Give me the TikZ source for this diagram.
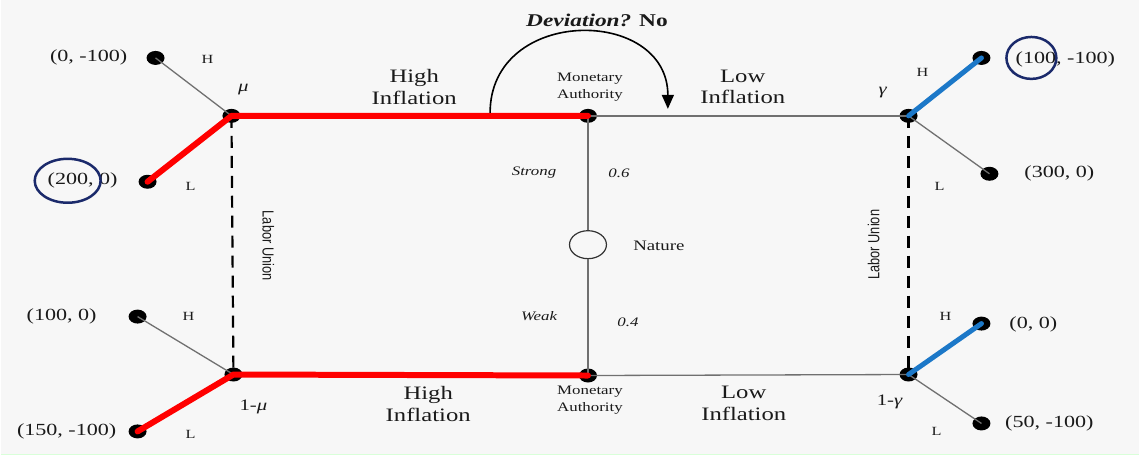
\documentclass[tikz,border=0pt]{standalone}
\usepackage{fontspec}
\setmainfont{Liberation Serif}[FakeStretch=1.3]
\newfontfamily\lufont{Liberation Sans}[FakeStretch=0.8]
\usetikzlibrary{shapes.geometric,arrows.meta}
\definecolor{bg}{HTML}{F7F7F7}
\definecolor{thinline}{HTML}{707070}
\definecolor{redline}{HTML}{FF0000}
\definecolor{blueline}{HTML}{1C78C8}
\definecolor{navy}{HTML}{1B2A6B}
\definecolor{txt}{HTML}{1A1A1A}
\tikzset{
  dot/.style={ellipse, fill=black, minimum width=18pt, minimum height=14pt, inner sep=0pt},
  naturenode/.style={ellipse, draw=black!80, line width=1.2pt, fill=bg, minimum width=37pt, minimum height=28pt, inner sep=0pt},
  thin/.style={draw=thinline, line width=1.3pt},
  redbranch/.style={draw=redline, line width=6pt, line cap=round, line join=round},
  bluebranch/.style={draw=blueline, line width=5pt, line cap=round},
  dashedline/.style={draw=black, line width=2.2pt, dash pattern=on 12pt off 8pt},
  payoff/.style={text=txt, font=\fontsize{17}{19}\selectfont, inner sep=0pt},
  big/.style={text=txt, font=\fontsize{19}{22}\selectfont, align=center, inner sep=0pt},
  small/.style={text=txt, font=\fontsize{12.5}{14}\selectfont, inner sep=0pt},
  ma/.style={text=txt, font=\fontsize{13}{17}\selectfont, align=center, inner sep=0pt},
  chance/.style={text=txt, font=\fontsize{13}{15}\selectfont\itshape, inner sep=0pt},
  greek/.style={text=txt, font=\fontsize{16}{18}\selectfont\itshape, inner sep=0pt},
  union/.style={text=txt, font=\fontsize{16}{18}\lufont, inner sep=0pt},
  highlight/.style={draw=navy, line width=2.5pt},
}
\begin{document}
\begin{tikzpicture}[x=1pt,y=-1pt]
\fill[bg] (0,0) rectangle (1140,456);
\draw[green!15, line width=1.5pt] (0,455) -- (1140,455);
\useasboundingbox (0,0) rectangle (1140,456);

% decision / chance nodes
\node[dot] (mu) at (231,116) {};
\node[dot] (omu) at (233,375) {};
\node[dot] (ma1) at (588,116) {};
\node[dot] (ma2) at (588,376) {};
\node[dot] (ga) at (909,116) {};
\node[dot] (oga) at (909,375) {};
\node[naturenode] (nat) at (588,245) {};

% terminal dots
\node[dot] (t1) at (155,58) {};
\node[dot] (t2) at (147,182) {};
\node[dot] (t3) at (137,317) {};
\node[dot] (t4) at (137,432) {};
\node[dot] (t5) at (982,58) {};
\node[dot] (t6) at (990,174) {};
\node[dot] (t7) at (982,324) {};
\node[dot] (t8) at (982,424) {};

% thin branches
\draw[thin] (mu.center) -- (t1.center);
\draw[thin] (omu.center) -- (t3.center);
\draw[thin] (ma1.center) -- (ga.center);
\draw[thin] (ma2.center) -- (oga.center);
\draw[thin] (ga.center) -- (t6.center);
\draw[thin] (oga.center) -- (t8.center);
\draw[thin] (ma1.center) -- (nat.north);
\draw[thin] (nat.south) -- (ma2.center);

% information sets
\draw[dashedline] (mu.center) -- (omu.center);
\draw[dashedline] (ga.center) -- (oga.center);

% equilibrium paths
\draw[redbranch] (t2.center) -- (mu.center) -- (ma1.center);
\draw[redbranch] (t4.center) -- (omu.center) -- (ma2.center);
\draw[bluebranch] (ga.center) -- (t5.center);
\draw[bluebranch] (oga.center) -- (t7.center);

% deviation arrow
\coordinate (devS) at (490,113);
\coordinate (devE) at (668,109);
\draw[black, line width=1.6pt, -{Triangle[length=14pt,width=12pt]}] (devS) .. controls (490,6) and (668,6) .. (devE);
\node[text=txt, font=\fontsize{18}{20}\selectfont\bfseries, inner sep=0pt] (dev) at (597,20) {\textit{Deviation?} No};

% payoffs
\node[payoff] (p1) at (88,57) {(0, -100)};
\node[payoff] (p2) at (82,181) {(200, 0)};
\node[payoff] (p3) at (61,317) {(100, 0)};
\node[payoff] (p4) at (66,432) {(150, -100)};
\node[payoff] (p5) at (1066,59) {(100, -100)};
\node[payoff] (p6) at (1060,174) {(300, 0)};
\node[payoff] (p7) at (1034,325) {(0, 0)};
\node[payoff] (p8) at (1050,424) {(50, -100)};
\draw[highlight] (67,181) ellipse[x radius=33, y radius=22];
\draw[highlight] (1032,58) ellipse[x radius=25, y radius=21];

% action labels
\node[small] (h1) at (207,59) {H};
\node[small] (l1) at (190,187) {L};
\node[small] (h2) at (188,317) {H};
\node[small] (l2) at (190,435) {L};
\node[small] (h3) at (923,73) {H};
\node[small] (l3) at (940,187) {L};
\node[small] (h4) at (946,317) {H};
\node[small] (l4) at (937,432) {L};

\node[greek] (lmu) at (243,90) {μ};
\node[greek] (lomu) at (253,407) {\upshape 1-\itshape μ};
\node[greek] (lga) at (883,93) {γ};
\node[greek] (loga) at (890,402) {\upshape 1-\itshape γ};

\node[big] (hi1) at (414,87) {High\\Inflation};
\node[big] (hi2) at (428,405) {High\\Inflation};
\node[big] (lo1) at (743,87) {Low\\Inflation};
\node[big] (lo2) at (744,404) {Low\\Inflation};

\node[ma] (mal1) at (590,87) {Monetary\\Authority};
\node[ma] (mal2) at (590,401) {Monetary\\Authority};

\node[chance] (strong) at (534,173) {Strong};
\node[chance] (p06) at (619,173) {0.6};
\node[chance] (weak) at (539,317) {Weak};
\node[chance] (p04) at (628,323) {0.4};
\node[text=txt, font=\fontsize{14.5}{16}\selectfont, inner sep=0pt] (natl) at (659,246) {Nature};

\node[union, rotate=-90] (lu1) at (268,246) {Labor Union};
\node[union, rotate=90] (lu2) at (874,245) {Labor Union};
\end{tikzpicture}
\end{document}
